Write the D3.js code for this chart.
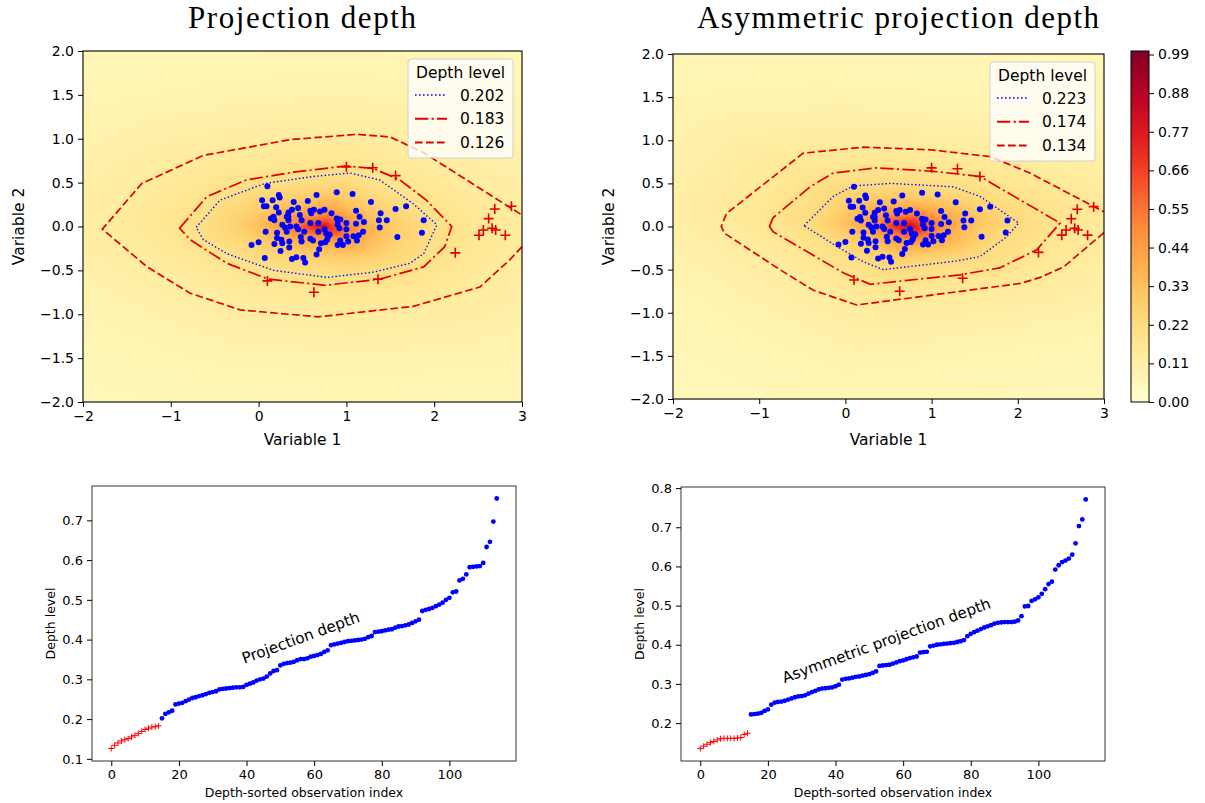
<!DOCTYPE html>
<html>
<head>
<meta charset="utf-8">
<script src="https://cdn.jsdelivr.net/npm/d3@7"></script>
<style>
body { margin: 0; background: #fff; }
text { font-family: "DejaVu Sans", sans-serif; fill: #000; }
</style>
</head>
<body>
<svg id="fig" width="1205" height="803"></svg>
<script>
// observations (Variable 1, Variable 2): regular points and flagged outliers
var inX = [0.10,0.04,0.06,0.09,0.16,0.23,0.24,0.20,0.23,0.14,
  0.17,0.40,0.45,0.56,0.66,0.89,1.07,1.28,0.34,0.34,
  0.34,0.47,0.49,0.59,0.63,0.70,0.75,0.83,0.89,0.93,
  1.11,1.15,1.20,1.11,1.39,1.46,1.37,1.56,1.68,1.88,
  1.86,1.58,1.38,1.19,1.14,1.08,1.02,0.96,0.90,1.00,
  0.92,0.90,1.00,0.81,0.78,0.76,0.69,0.66,0.75,0.77,
  0.68,0.59,0.62,0.49,0.43,0.45,0.36,0.30,0.27,0.32,
  0.21,0.21,0.26,0.35,0.18,0.25,0.35,0.08,0.00,-0.08,
  0.07,0.38,0.43,0.51,0.53,0.71,0.79,0.59,0.60,0.48,
  0.90,0.93,1.12,1.00,0.27,0.32,0.52,0.68,0.38,0.18];
var inY = [0.46,0.30,0.23,0.23,0.30,0.36,0.33,0.22,0.16,0.09,
  0.11,0.28,0.21,0.29,0.36,0.39,0.37,0.28,0.16,0.11,
  0.07,0.13,0.07,0.18,0.19,0.17,0.19,0.15,0.09,0.08,
  0.18,0.11,0.05,0.03,0.15,0.07,0.07,0.20,0.23,0.07,
  -0.07,-0.12,-0.01,-0.06,-0.10,-0.11,-0.17,-0.21,-0.21,-0.11,
  -0.02,0.02,-0.03,-0.09,-0.15,-0.18,-0.26,-0.32,-0.03,-0.08,
  -0.06,-0.14,-0.16,-0.17,0.00,-0.03,0.00,-0.01,0.02,-0.06,
  -0.07,-0.13,-0.15,-0.17,-0.20,-0.28,-0.24,-0.06,-0.18,-0.21,
  -0.36,-0.37,-0.35,-0.36,-0.41,-0.19,-0.12,0.04,0.15,-0.12,
  0.07,-0.16,-0.16,0.04,-0.19,0.11,-0.06,0.04,0.19,0.07];
var outX = [1.00,1.30,1.56,2.24,2.51,2.56,2.62,2.69,2.66,2.70,2.81,2.88,0.10,1.36,0.63];
var outY = [0.68,0.67,0.58,-0.30,-0.10,-0.04,0.09,0.20,-0.02,-0.04,-0.10,0.23,-0.62,-0.60,-0.75];

// depth level contours (vertices)
var pdLevels = ['0.202', '0.183', '0.126'];
var pdInner = [[-0.71,-0.01],[-0.44,0.30],[0.07,0.49],[0.62,0.57],[1.04,0.61],[1.38,0.53],[1.76,0.26],[2.03,0.02],
  [1.88,-0.31],[1.72,-0.42],[1.31,-0.52],[0.78,-0.58],[0.17,-0.50],[-0.36,-0.31],[-0.63,-0.15]];
var pdMiddle = [[-0.90,-0.02],[-0.59,0.34],[-0.14,0.53],[0.40,0.62],[1.00,0.69],[1.31,0.66],[1.61,0.53],[1.91,0.30],
  [2.20,0.00],[2.12,-0.23],[1.88,-0.46],[1.38,-0.60],[0.76,-0.67],[0.11,-0.60],[-0.36,-0.42],[-0.78,-0.15]];
var pdOuter = [[3.0,-0.23],[2.86,-0.38],[2.52,-0.69],[1.76,-0.91],[0.68,-1.03],[-0.21,-0.95],[-0.78,-0.76],[-1.27,-0.46],
  [-1.78,-0.03],[-1.33,0.49],[-0.63,0.81],[0.36,0.99],[1.12,1.05],[1.50,1.02],[1.88,0.84],[2.37,0.53],[3.0,0.13]];

var apdLevels = ['0.223', '0.174', '0.134'];
var apdInner = [[-0.48,0.01],[-0.14,0.35],[0.09,0.47],[0.52,0.50],[1.25,0.46],[1.56,0.35],[2.01,0.04],[1.87,-0.12],
  [1.56,-0.35],[1.29,-0.40],[0.44,-0.50],[0.21,-0.41],[-0.10,-0.23]];
var apdMiddle = [[-0.88,0.00],[-0.84,0.10],[-0.41,0.46],[-0.14,0.62],[0.36,0.68],[1.02,0.64],[1.56,0.58],[2.49,0.04],
  [2.22,-0.27],[1.79,-0.48],[1.33,-0.56],[0.29,-0.67],[-0.02,-0.54],[-0.84,-0.06]];
var apdOuter = [[3.0,-0.07],[2.53,-0.47],[2.26,-0.59],[2.03,-0.66],[0.13,-0.91],[-0.37,-0.74],[-0.76,-0.50],[-1.40,-0.08],
  [-1.44,0.00],[-1.38,0.15],[-0.49,0.85],[0.21,0.92],[0.98,0.89],[1.68,0.81],[2.14,0.62],[3.0,0.17]];

// depth-sorted depth values (first 15 are the flagged ones)
var pdSorted = [0.126,0.134,0.140,0.145,0.148,0.151,0.155,0.159,0.164,0.169,0.174,0.177,0.180,0.181,0.183,
  0.202,0.213,0.217,0.221,0.237,0.239,0.241,0.245,0.249,0.253,
  0.255,0.258,0.260,0.263,0.266,0.268,0.270,0.275,0.276,0.277,
  0.278,0.279,0.280,0.280,0.281,0.286,0.289,0.292,0.297,0.300,
  0.302,0.307,0.315,0.321,0.323,0.335,0.339,0.341,0.342,0.344,
  0.348,0.351,0.351,0.353,0.357,0.359,0.361,0.364,0.369,0.373,
  0.386,0.388,0.390,0.392,0.394,0.396,0.397,0.398,0.399,0.400,
  0.402,0.406,0.409,0.419,0.420,0.421,0.423,0.425,0.426,0.430,
  0.433,0.434,0.436,0.438,0.442,0.446,0.450,0.472,0.475,0.477,
  0.480,0.484,0.488,0.493,0.500,0.505,0.519,0.521,0.549,0.553,
  0.564,0.582,0.583,0.584,0.585,0.593,0.633,0.646,0.697,0.755];
var apdSorted = [0.135,0.141,0.146,0.150,0.153,0.157,0.160,0.161,0.161,0.161,0.161,0.162,0.163,0.171,0.174,
  0.222,0.223,0.224,0.226,0.231,0.235,0.247,0.252,0.254,0.255,
  0.257,0.260,0.263,0.266,0.268,0.269,0.271,0.275,0.279,0.282,
  0.286,0.288,0.289,0.290,0.291,0.294,0.298,0.311,0.313,0.314,
  0.316,0.318,0.319,0.321,0.323,0.325,0.328,0.332,0.346,0.347,
  0.348,0.349,0.352,0.355,0.358,0.360,0.363,0.366,0.368,0.370,
  0.380,0.381,0.382,0.396,0.398,0.400,0.401,0.402,0.403,0.404,
  0.405,0.407,0.409,0.412,0.422,0.428,0.432,0.436,0.440,0.444,
  0.447,0.450,0.454,0.456,0.457,0.458,0.458,0.458,0.459,0.462,
  0.473,0.498,0.499,0.512,0.516,0.521,0.530,0.542,0.555,0.561,
  0.592,0.603,0.611,0.615,0.620,0.630,0.659,0.703,0.720,0.771];
var nFlagged = 15;

var xTicksTop = [-2, -1, 0, 1, 2, 3];
var yTicksTop = [-2, -1.5, -1, -0.5, 0, 0.5, 1, 1.5, 2];
var cbarTicks = [0, 0.11, 0.22, 0.33, 0.44, 0.55, 0.66, 0.77, 0.88, 0.99];
var idxTicks = [0, 20, 40, 60, 80, 100];
var pdTicks = [0.1, 0.2, 0.3, 0.4, 0.5, 0.6, 0.7];
var apdTicks = [0.2, 0.3, 0.4, 0.5, 0.6, 0.7, 0.8];

var svg = d3.select('#fig');
var color = d3.scaleSequential(d3.interpolateYlOrRd).domain([0, 1]);
var allX = inX.concat(outX), allY = inY.concat(outY);
var NX = 200, NY = 160;

// projection depth (or its asymmetric version) of the sample, on a grid
function depthGrid(asym) {
	var nd = asym ? 720 : 360, dirs = [];
	for (var k = 0; k < nd; k++) {
		var a = (asym ? 2 : 1) * Math.PI * k / nd, ux = Math.cos(a), uy = Math.sin(a);
		var p = allX.map(function(x, i){ return ux * x + uy * allY[i]; });
		var med = d3.median(p), s;
		if (asym) s = d3.median(p.filter(function(v){ return v > med; }).map(function(v){ return v - med; }));
		else s = d3.median(p.map(function(v){ return Math.abs(v - med); }));
		dirs.push([ux, uy, med, s]);
	}
	var out = new Float32Array(NX * NY);
	for (var j = 0; j < NY; j++) {
		var y = 2 - (j + 0.5) * 4 / NY;
		for (var i = 0; i < NX; i++) {
			var x = -2 + (i + 0.5) * 5 / NX, o = 0;
			for (var d = 0; d < nd; d++) {
				var q = dirs[d], v = q[0] * x + q[1] * y - q[2];
				v = (asym ? v : Math.abs(v)) / q[3];
				if (v > o) o = v;
			}
			out[j * NX + i] = 1 / (1 + o);
		}
	}
	return out;
}

function styleAxis(g, size) {
	g.select('.domain').remove();
	g.selectAll('.tick line').attr('stroke', '#000').attr('stroke-width', 1);
	g.selectAll('.tick text').attr('font-size', size).attr('font-family', 'DejaVu Sans').attr('fill', '#000');
}

function crossPath(h) { return 'M' + (-h) + ',0H' + h + 'M0,' + (-h) + 'V' + h; }

function topPanel(o) {
	var xs = d3.scaleLinear([-2, 3], [o.x0, o.x1]);
	var ys = d3.scaleLinear([-2, 2], [o.y1, o.y0]);
	var g = svg.append('g');
	var clip = 'clip' + o.id;
	svg.append('clipPath').attr('id', clip).append('rect')
		.attr('x', o.x0).attr('y', o.y0).attr('width', o.x1 - o.x0).attr('height', o.y1 - o.y0);

	var grid = depthGrid(o.asym);
	var cv = document.createElement('canvas');
	cv.width = NX; cv.height = NY;
	var ctx = cv.getContext('2d'), img = ctx.createImageData(NX, NY);
	for (var k = 0; k < NX * NY; k++) {
		var c = d3.rgb(color(grid[k]));
		img.data[4 * k] = c.r; img.data[4 * k + 1] = c.g; img.data[4 * k + 2] = c.b; img.data[4 * k + 3] = 255;
	}
	ctx.putImageData(img, 0, 0);
	g.append('image').attr('href', cv.toDataURL())
		.attr('x', xs(-2)).attr('y', ys(2)).attr('width', xs(3) - xs(-2)).attr('height', ys(-2) - ys(2))
		.attr('preserveAspectRatio', 'none');

	var cg = g.append('g').attr('clip-path', 'url(#' + clip + ')');
	var line = d3.line().x(function(d){ return xs(d[0]); }).y(function(d){ return ys(d[1]); });
	var closed = d3.line().curve(d3.curveLinearClosed).x(function(d){ return xs(d[0]); }).y(function(d){ return ys(d[1]); });
	cg.append('path').attr('d', line(o.outer)).attr('fill', 'none').attr('stroke', '#e00000')
		.attr('stroke-width', 1.7).attr('stroke-dasharray', '7.7,3.3');
	cg.append('path').attr('d', closed(o.middle)).attr('fill', 'none').attr('stroke', '#e00000')
		.attr('stroke-width', 1.7).attr('stroke-dasharray', '13.3,3.3,2.1,3.3');
	cg.append('path').attr('d', closed(o.inner)).attr('fill', 'none').attr('stroke', '#0000ff')
		.attr('stroke-width', 1.4).attr('stroke-dasharray', '1.4,2.3');

	cg.selectAll('circle.pt').data(d3.range(inX.length)).enter().append('circle')
		.attr('cx', function(i){ return xs(inX[i]); }).attr('cy', function(i){ return ys(inY[i]); })
		.attr('r', 3).attr('fill', '#0000ff');
	cg.selectAll('path.out').data(d3.range(outX.length)).enter().append('path')
		.attr('transform', function(i){ return 'translate(' + xs(outX[i]) + ',' + ys(outY[i]) + ')'; })
		.attr('d', crossPath(5)).attr('stroke', '#e00000').attr('stroke-width', 1.6);

	g.append('rect').attr('x', o.x0).attr('y', o.y0).attr('width', o.x1 - o.x0).attr('height', o.y1 - o.y0)
		.attr('fill', 'none').attr('stroke', '#000').attr('stroke-width', 1.1);

	var ax = g.append('g').attr('transform', 'translate(0,' + o.y1 + ')')
		.call(d3.axisBottom(xs).tickValues(xTicksTop).tickFormat(d3.format('d')).tickSize(5).tickPadding(4));
	styleAxis(ax, 14);
	var ay = g.append('g').attr('transform', 'translate(' + o.x0 + ',0)')
		.call(d3.axisLeft(ys).tickValues(yTicksTop).tickFormat(d3.format('.1f')).tickSize(5).tickPadding(4));
	styleAxis(ay, 14);

	g.append('text').attr('x', (o.x0 + o.x1) / 2).attr('y', 445).attr('text-anchor', 'middle')
		.attr('font-size', 15.5).text('Variable 1');
	g.append('text').attr('transform', 'translate(' + (o.x0 - 59) + ',' + ((o.y0 + o.y1) / 2) + ') rotate(-90)')
		.attr('text-anchor', 'middle').attr('font-size', 15.5).text('Variable 2');

	var t = g.append('text').attr('x', o.titleX).attr('y', 28).attr('text-anchor', 'middle')
		.style('font-family', '"Liberation Serif", serif').attr('font-size', 31).text(o.title);
	t.attr('textLength', o.titleW).attr('lengthAdjust', 'spacing');

	// legend
	var lx = o.x1 - 9 - 105, ly = o.y0 + 8;
	var lg = g.append('g');
	lg.append('rect').attr('x', lx).attr('y', ly).attr('width', 105).attr('height', 99).attr('rx', 3)
		.attr('fill', '#fff').attr('fill-opacity', 0.8).attr('stroke', '#d0d0d0');
	lg.append('text').attr('x', lx + 52.5).attr('y', ly + 19).attr('text-anchor', 'middle')
		.attr('font-size', 15.5).text('Depth level');
	var styles = [
		{c: '#0000ff', w: 1.6, dash: '1.6,2.4'},
		{c: '#e00000', w: 2, dash: '13.3,3.3,2.1,3.3'},
		{c: '#e00000', w: 2, dash: '7.7,3.3'}
	];
	o.levels.forEach(function(lab, i){
		var yy = ly + 36 + i * 23.8;
		lg.append('line').attr('x1', lx + 7).attr('x2', lx + 39).attr('y1', yy).attr('y2', yy)
			.attr('stroke', styles[i].c).attr('stroke-width', styles[i].w).attr('stroke-dasharray', styles[i].dash);
		lg.append('text').attr('x', lx + 52).attr('y', yy).attr('dy', '0.36em')
			.attr('font-size', 15.5).text(lab);
	});
}

function bottomPanel(o) {
	var idx = d3.range(o.values.length);
	var ext = d3.extent(idx), pad = (ext[1] - ext[0]) * 0.05;
	var xs = d3.scaleLinear([ext[0] - pad, ext[1] + pad], [o.x0, o.x1]);
	var vext = d3.extent(o.values), vpad = (vext[1] - vext[0]) * 0.05;
	var ys = d3.scaleLinear([vext[0] - vpad, vext[1] + vpad], [o.y1, o.y0]);
	var g = svg.append('g');

	g.selectAll('circle').data(idx.slice(nFlagged)).enter().append('circle')
		.attr('cx', function(i){ return xs(i); }).attr('cy', function(i){ return ys(o.values[i]); })
		.attr('r', 2.4).attr('fill', '#0000ff');
	g.selectAll('path.fl').data(idx.slice(0, nFlagged)).enter().append('path')
		.attr('transform', function(i){ return 'translate(' + xs(i) + ',' + ys(o.values[i]) + ')'; })
		.attr('d', crossPath(3)).attr('stroke', '#ff0000').attr('stroke-width', 1);

	g.append('rect').attr('x', o.x0).attr('y', o.y0).attr('width', o.x1 - o.x0).attr('height', o.y1 - o.y0)
		.attr('fill', 'none').attr('stroke', '#333').attr('stroke-width', 1);
	var ax = g.append('g').attr('transform', 'translate(0,' + o.y1 + ')')
		.call(d3.axisBottom(xs).tickValues(idxTicks).tickSize(5).tickPadding(4));
	styleAxis(ax, 13);
	var ay = g.append('g').attr('transform', 'translate(' + o.x0 + ',0)')
		.call(d3.axisLeft(ys).tickValues(o.ticks).tickFormat(d3.format('.1f')).tickSize(5).tickPadding(4));
	styleAxis(ay, 13);

	g.append('text').attr('x', (o.x0 + o.x1) / 2).attr('y', o.y1 + 36).attr('text-anchor', 'middle')
		.attr('font-size', 12.5).text('Depth-sorted observation index');
	g.append('text').attr('transform', 'translate(' + (o.x0 - 37) + ',' + ((o.y0 + o.y1) / 2) + ') rotate(-90)')
		.attr('text-anchor', 'middle').attr('font-size', 12.5).text('Depth level');
	g.append('text').attr('transform', 'translate(' + xs(o.label[0]) + ',' + ys(o.label[1]) + ') rotate(-20)')
		.attr('font-size', 15.2).text(o.label[2]);
}

topPanel({id: 'a', x0: 83, x1: 522, y0: 51, y1: 402, asym: false, inner: pdInner, middle: pdMiddle, outer: pdOuter,
	levels: pdLevels, title: 'Projection depth', titleX: 302, titleW: 228});
topPanel({id: 'b', x0: 673, x1: 1104, y0: 54, y1: 399, asym: true, inner: apdInner, middle: apdMiddle, outer: apdOuter,
	levels: apdLevels, title: 'Asymmetric projection depth', titleX: 898, titleW: 402});

// colorbar
var cb = {x0: 1131, x1: 1149, y0: 51, y1: 402};
var cs = d3.scaleLinear([0, 1], [cb.y1, cb.y0]);
var grad = svg.append('defs').append('linearGradient').attr('id', 'cbg')
	.attr('x1', 0).attr('y1', 1).attr('x2', 0).attr('y2', 0);
d3.range(0, 1.0001, 0.05).forEach(function(t){
	grad.append('stop').attr('offset', t).attr('stop-color', color(t));
});
svg.append('rect').attr('x', cb.x0).attr('y', cb.y0).attr('width', cb.x1 - cb.x0).attr('height', cb.y1 - cb.y0)
	.attr('fill', 'url(#cbg)').attr('stroke', '#000').attr('stroke-width', 1);
var cax = svg.append('g').attr('transform', 'translate(' + cb.x1 + ',0)')
	.call(d3.axisRight(cs).tickValues(cbarTicks).tickFormat(d3.format('.2f')).tickSize(5).tickPadding(4));
styleAxis(cax, 14);

bottomPanel({x0: 92, x1: 516, y0: 486, y1: 761, values: pdSorted, ticks: pdTicks,
	label: [39.3, 0.339, 'Projection depth']});
bottomPanel({x0: 681, x1: 1105, y0: 487, y1: 761, values: apdSorted, ticks: apdTicks,
	label: [24.9, 0.302, 'Asymmetric projection depth']});
</script>
</body>
</html>
